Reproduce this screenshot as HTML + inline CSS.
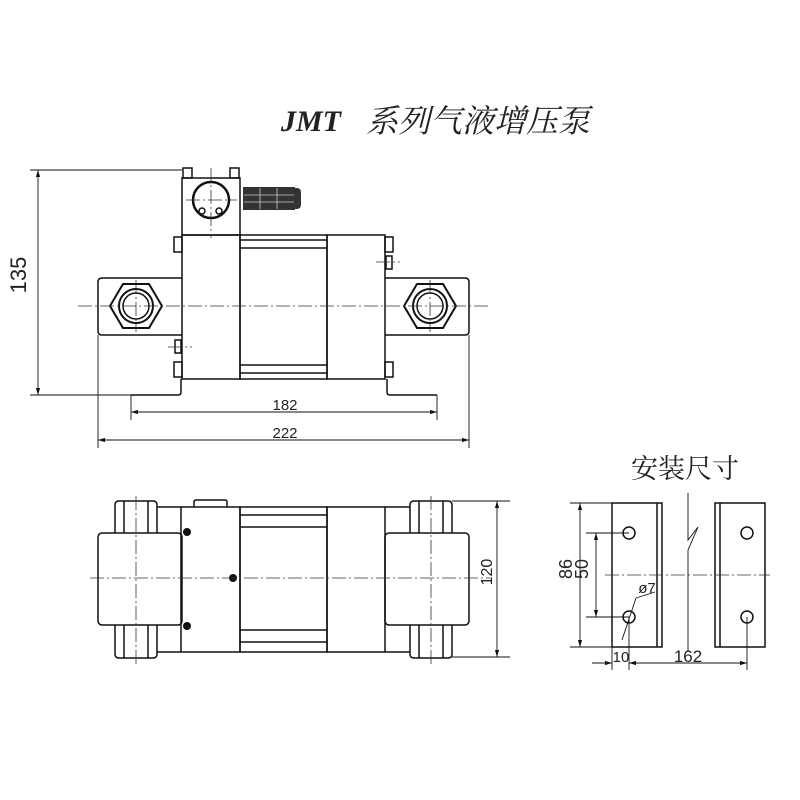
<!DOCTYPE html>
<html><head><meta charset="utf-8"><style>
html,body{margin:0;padding:0;background:#fff;width:800px;height:800px;overflow:hidden}
svg{display:block}
text{font-family:"Liberation Sans","Noto Sans CJK SC",sans-serif;fill:#222}
</style></head><body>
<svg width="800" height="800" viewBox="0 0 800 800" xmlns="http://www.w3.org/2000/svg">
<defs>
<marker id="a" viewBox="0 0 10 10" refX="10" refY="5" markerWidth="8" markerHeight="8" orient="auto-start-reverse"><path d="M0 2 L10 5 L0 8 z" fill="#111"/></marker>
</defs>
<text x="281" y="131" font-weight="bold" font-style="italic" font-size="30" style="font-family:'Liberation Serif',serif">JMT</text>
<text x="366" y="132" font-size="32" font-style="italic" style="font-family:'Noto Serif CJK SC','Noto Sans CJK SC',serif">系列气液增压泵</text>

<!-- TOP VIEW -->
<g fill="none" stroke="#111" stroke-width="1.5">
<rect x="183" y="168" width="9" height="10"/><rect x="230" y="168" width="9" height="10"/>
<rect x="182" y="178" width="58" height="57"/>
<circle cx="211" cy="200" r="18" stroke-width="2.5"/>
<circle cx="202" cy="211" r="3"/><circle cx="219" cy="211" r="3"/>
<rect x="182" y="235" width="58" height="144"/>
<rect x="240" y="235" width="87" height="144"/>
<line x1="240" y1="240" x2="327" y2="240"/><line x1="240" y1="248" x2="327" y2="248"/>
<line x1="240" y1="365" x2="327" y2="365"/><line x1="240" y1="373" x2="327" y2="373"/>
<rect x="327" y="235" width="58" height="144"/>
<path d="M182 278 H102 Q98 278 98 282 V331 Q98 335 102 335 H182"/>
<path d="M385 278 H465 Q469 278 469 282 V331 Q469 335 465 335 H385"/>
<polygon points="110,306 123,284 149,284 162,306 149,328 123,328" stroke-width="2"/>
<circle cx="136" cy="306" r="17" stroke-width="2"/><circle cx="136" cy="306" r="13"/>
<polygon points="404,306 417,284 443,284 456,306 443,328 417,328" stroke-width="2"/>
<circle cx="430" cy="306" r="17" stroke-width="2"/><circle cx="430" cy="306" r="13"/>
<path d="M131 395 H178 Q181 395 181 392 V379"/>
<path d="M437 395 H390 Q387 395 387 392 V379"/>
<rect x="174" y="237" width="8" height="15"/><rect x="174" y="362" width="8" height="15"/>
<rect x="175" y="340" width="6" height="13"/>
<rect x="385" y="237" width="8" height="15"/><rect x="385" y="362" width="8" height="15"/>
<rect x="386" y="256" width="6" height="13"/>
</g>
<rect x="243" y="187" width="52" height="23" fill="#333"/>
<rect x="292" y="188" width="9" height="21" rx="4" fill="#333"/>
<g stroke="#ccc" stroke-width="0.8"><line x1="260" y1="188" x2="260" y2="209"/><line x1="277" y1="188" x2="277" y2="209"/><line x1="244" y1="195" x2="294" y2="195"/><line x1="244" y1="202" x2="294" y2="202"/></g>
<g fill="none" stroke="#333" stroke-width="0.8" stroke-dasharray="14 3 2 3">
<line x1="78" y1="306" x2="490" y2="306"/>
<line x1="211" y1="168" x2="211" y2="238"/><line x1="186" y1="200" x2="237" y2="200"/>
<line x1="136" y1="280" x2="136" y2="332"/><line x1="430" y1="280" x2="430" y2="332"/>
<line x1="168" y1="347" x2="192" y2="347"/><line x1="376" y1="262" x2="400" y2="262"/>
</g>
<g fill="none" stroke="#111" stroke-width="0.9">
<line x1="30" y1="170" x2="182" y2="170"/><line x1="30" y1="395" x2="131" y2="395"/>
<line x1="38" y1="170" x2="38" y2="395" marker-start="url(#a)" marker-end="url(#a)"/>
<line x1="98" y1="335" x2="98" y2="448"/><line x1="469" y1="335" x2="469" y2="448"/>
<line x1="131" y1="395" x2="131" y2="420"/><line x1="437" y1="395" x2="437" y2="420"/>
<line x1="131" y1="412" x2="437" y2="412" marker-start="url(#a)" marker-end="url(#a)"/>
<line x1="98" y1="440" x2="469" y2="440" marker-start="url(#a)" marker-end="url(#a)"/>
</g>
<text x="34" y="283" font-size="22" text-anchor="middle" transform="rotate(-90 26 283)">135</text>
<text x="285" y="410" font-size="15" text-anchor="middle">182</text>
<text x="285" y="438" font-size="15" text-anchor="middle">222</text>

<!-- BOTTOM LEFT VIEW -->
<g fill="none" stroke="#111" stroke-width="1.5">
<path d="M194 507 V502 Q194 500 196 500 H225 Q227 500 227 502 V507"/>
<rect x="181" y="507" width="59" height="145"/>
<rect x="240" y="507" width="87" height="145"/>
<line x1="240" y1="515" x2="327" y2="515"/><line x1="240" y1="527" x2="327" y2="527"/>
<line x1="240" y1="630" x2="327" y2="630"/><line x1="240" y1="642" x2="327" y2="642"/>
<rect x="327" y="507" width="58" height="145"/>
<rect x="98" y="533" width="84" height="92" rx="4"/>
<rect x="385" y="533" width="84" height="92" rx="4"/>
<path d="M115 533 V505 Q115 501 119 501 H153 Q157 501 157 505 V533"/>
<path d="M115 625 V654 Q115 658 119 658 H153 Q157 658 157 654 V625"/>
<path d="M410 533 V505 Q410 501 414 501 H448 Q452 501 452 505 V533"/>
<path d="M410 625 V654 Q410 658 414 658 H448 Q452 658 452 654 V625"/>
<line x1="124" y1="501" x2="124" y2="533"/><line x1="148" y1="501" x2="148" y2="533"/>
<line x1="124" y1="625" x2="124" y2="658"/><line x1="148" y1="625" x2="148" y2="658"/>
<line x1="419" y1="501" x2="419" y2="533"/><line x1="443" y1="501" x2="443" y2="533"/>
<line x1="419" y1="625" x2="419" y2="658"/><line x1="443" y1="625" x2="443" y2="658"/>
<line x1="157" y1="507" x2="181" y2="507"/><line x1="157" y1="652" x2="181" y2="652"/>
<line x1="385" y1="507" x2="410" y2="507"/><line x1="385" y1="652" x2="410" y2="652"/>
</g>
<circle cx="187" cy="532" r="4" fill="#111"/><circle cx="187" cy="626" r="4" fill="#111"/><circle cx="233" cy="578" r="4" fill="#111"/>
<g fill="none" stroke="#333" stroke-width="0.8" stroke-dasharray="14 3 2 3">
<line x1="90" y1="578" x2="490" y2="578"/>
<line x1="136" y1="496" x2="136" y2="664"/><line x1="431" y1="496" x2="431" y2="664"/>
</g>
<g fill="none" stroke="#111" stroke-width="0.9">
<line x1="452" y1="501" x2="510" y2="501"/><line x1="452" y1="657" x2="510" y2="657"/>
<line x1="497" y1="501" x2="497" y2="657" marker-start="url(#a)" marker-end="url(#a)"/>
</g>
<text x="498" y="578" font-size="16" text-anchor="middle" transform="rotate(-90 492 578)">120</text>

<!-- MOUNTING VIEW -->
<text x="685" y="478" font-size="27" text-anchor="middle" style="font-family:'Noto Serif CJK SC','Noto Sans CJK SC',serif">安装尺寸</text>
<g fill="none" stroke="#111" stroke-width="1.5">
<rect x="612" y="503" width="50" height="144"/><line x1="657" y1="503" x2="657" y2="647"/>
<rect x="715" y="503" width="50" height="144"/><line x1="720" y1="503" x2="720" y2="647"/>
<circle cx="629" cy="533" r="6"/><circle cx="629" cy="617" r="6"/>
<circle cx="747" cy="533" r="6"/><circle cx="747" cy="617" r="6"/>
</g>
<g fill="none" stroke="#111" stroke-width="0.9">
<line x1="570" y1="503" x2="612" y2="503"/><line x1="570" y1="647" x2="612" y2="647"/>
<line x1="580" y1="503" x2="580" y2="647" marker-start="url(#a)" marker-end="url(#a)"/>
<line x1="586" y1="533" x2="629" y2="533"/><line x1="586" y1="617" x2="629" y2="617"/>
<line x1="596" y1="533" x2="596" y2="617" marker-start="url(#a)" marker-end="url(#a)"/>
<line x1="612" y1="647" x2="612" y2="670"/><line x1="629" y1="617" x2="629" y2="670"/><line x1="747" y1="617" x2="747" y2="670"/>
<line x1="592" y1="663" x2="612" y2="663" marker-end="url(#a)"/>
<line x1="629" y1="663" x2="747" y2="663" marker-start="url(#a)" marker-end="url(#a)"/>
<line x1="622" y1="640" x2="636" y2="598"/><line x1="636" y1="598" x2="655" y2="592"/>
<path d="M688 493 V540 L698 527 L688 550 V652"/>
</g>
<g fill="none" stroke="#333" stroke-width="0.8" stroke-dasharray="14 3 2 3">
<line x1="605" y1="575" x2="770" y2="575"/>
</g>
<text x="578" y="575" font-size="18" text-anchor="middle" transform="rotate(-90 572 575)">86</text>
<text x="594" y="575" font-size="18" text-anchor="middle" transform="rotate(-90 588 575)">50</text>
<text x="647" y="593" font-size="15" text-anchor="middle">ø7</text>
<text x="621" y="662" font-size="15" text-anchor="middle">10</text>
<text x="688" y="662" font-size="17" text-anchor="middle">162</text>
</svg>
</body></html>
